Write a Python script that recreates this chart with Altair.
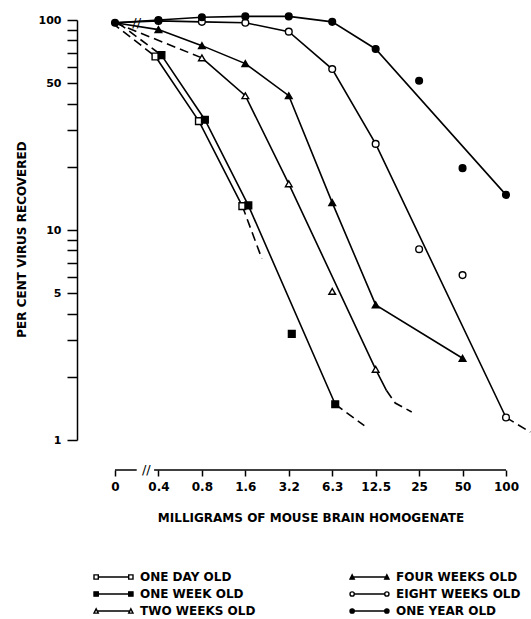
import json
import altair as alt
import pandas as pd

# ---------------- data ----------------
dose_labels = ["0", "0.4", "0.8", "1.6", "3.2", "6.3", "12.5", "25", "50", "100"]
series_names = ["ONE DAY OLD", "ONE WEEK OLD", "TWO WEEKS OLD",
                "FOUR WEEKS OLD", "EIGHT WEEKS OLD", "ONE YEAR OLD"]

# observed points (mg of brain homogenate -> per cent virus recovered)
one_day_dose = ["0.4", "0.8", "1.6"]
one_day_pct = [67, 33, 13]
one_week_dose = ["0.4", "0.8", "1.6", "3.2", "6.3"]
one_week_pct = [68, 33.5, 13.1, 3.2, 1.48]
two_weeks_dose = ["0.8", "1.6", "3.2", "6.3", "12.5"]
two_weeks_pct = [66, 43.6, 16.6, 5.1, 2.17]
four_weeks_dose = ["0.4", "0.8", "1.6", "3.2", "6.3", "12.5", "50"]
four_weeks_pct = [90, 75.5, 62, 43.6, 13.5, 4.4, 2.45]
eight_weeks_dose = ["0.4", "0.8", "1.6", "3.2", "6.3", "12.5", "25", "50", "100"]
eight_weeks_pct = [99, 98, 97, 88, 58.4, 25.7, 8.1, 6.1, 1.28]
one_year_dose = ["0", "0.4", "0.8", "1.6", "3.2", "6.3", "12.5", "25", "50", "100"]
one_year_pct = [97, 100, 103, 104, 104, 98, 72.8, 51.4, 19.7, 14.7]

# drawn curves: position on the dose scale (index of dose_labels,
# fractional for the extrapolated ends) and per cent recovered
one_day_solid_pos, one_day_solid_pct = [1, 2, 3], [67, 33, 13]
one_week_solid_pos, one_week_solid_pct = [1, 2, 3, 5], [68, 33.5, 13.1, 1.48]
two_weeks_solid_pos, two_weeks_solid_pct = [2, 3, 4, 6, 6.25], [66, 43.6, 16.6, 2.17, 1.72]
four_weeks_solid_pos = [0, 1, 2, 3, 4, 5, 6, 8]
four_weeks_solid_pct = [97, 90, 75.5, 62, 43.6, 13.5, 4.4, 2.45]
eight_weeks_solid_pos = [0, 1, 2, 3, 4, 5, 6, 9]
eight_weeks_solid_pct = [97, 99, 98, 97, 88, 58.4, 25.7, 1.28]
one_year_solid_pos = [0, 1, 2, 3, 4, 5, 6, 9]
one_year_solid_pct = [97, 100, 103, 104, 104, 98, 72.8, 14.7]

# dashed parts (start of curve and extrapolated tails)
one_day_dash_a_pos, one_day_dash_a_pct = [0, 1], [97, 67]
one_day_dash_b_pos, one_day_dash_b_pct = [3, 3.45], [13, 7.3]
one_week_dash_a_pos, one_week_dash_a_pct = [0, 1], [97, 68]
one_week_dash_b_pos, one_week_dash_b_pct = [5, 5.67], [1.48, 1.17]
two_weeks_dash_a_pos, two_weeks_dash_a_pct = [0, 2], [97, 66]
two_weeks_dash_b_pos, two_weeks_dash_b_pct = [6.25, 6.45, 6.83], [1.72, 1.5, 1.36]
eight_weeks_dash_b_pos, eight_weeks_dash_b_pct = [9, 9.56], [1.28, 1.09]

y_tick_values = [1, 2, 3, 4, 5, 6, 7, 8, 9, 10, 20, 30, 40, 50, 60, 70, 80, 90, 100]
y_label_values = [1, 5, 10, 50, 100]

# ---------------- tables ----------------
pt_rows = []
for name, doses, pcts in [
    ("ONE DAY OLD", one_day_dose, one_day_pct),
    ("ONE WEEK OLD", one_week_dose, one_week_pct),
    ("TWO WEEKS OLD", two_weeks_dose, two_weeks_pct),
    ("FOUR WEEKS OLD", four_weeks_dose, four_weeks_pct),
    ("EIGHT WEEKS OLD", eight_weeks_dose, eight_weeks_pct),
    ("ONE YEAR OLD", one_year_dose, one_year_pct),
]:
    for d, p in zip(doses, pcts):
        pt_rows.append({"series": name, "pos": dose_labels.index(d), "pct": p})
points = pd.DataFrame(pt_rows)

def seg_table(items):
    rows = []
    for k, (name, pos, pct) in enumerate(items):
        for i, (x, y) in enumerate(zip(pos, pct)):
            rows.append({"series": name, "seg": k, "ord": i, "pos": x, "pct": y})
    return pd.DataFrame(rows)

solid = seg_table([
    ("ONE DAY OLD", one_day_solid_pos, one_day_solid_pct),
    ("ONE WEEK OLD", one_week_solid_pos, one_week_solid_pct),
    ("TWO WEEKS OLD", two_weeks_solid_pos, two_weeks_solid_pct),
    ("FOUR WEEKS OLD", four_weeks_solid_pos, four_weeks_solid_pct),
    ("EIGHT WEEKS OLD", eight_weeks_solid_pos, eight_weeks_solid_pct),
    ("ONE YEAR OLD", one_year_solid_pos, one_year_solid_pct),
])
dashed = seg_table([
    ("ONE DAY OLD", one_day_dash_a_pos, one_day_dash_a_pct),
    ("ONE DAY OLD", one_day_dash_b_pos, one_day_dash_b_pct),
    ("ONE WEEK OLD", one_week_dash_a_pos, one_week_dash_a_pct),
    ("ONE WEEK OLD", one_week_dash_b_pos, one_week_dash_b_pct),
    ("TWO WEEKS OLD", two_weeks_dash_a_pos, two_weeks_dash_a_pct),
    ("TWO WEEKS OLD", two_weeks_dash_b_pos, two_weeks_dash_b_pct),
    ("EIGHT WEEKS OLD", eight_weeks_dash_b_pos, eight_weeks_dash_b_pct),
])

FONT = "DejaVu Sans"

X = alt.X("pos:Q",
          scale=alt.Scale(domain=[0, 9], nice=False, zero=False),
          axis=alt.Axis(values=list(range(10)),
                        labelExpr=json.dumps(dose_labels) + "[datum.value]",
                        domain=False, offset=30, tickSize=6, tickWidth=1.5,
                        tickColor="black", labelColor="black",
                        labelFont=FONT, labelFontSize=12, labelFontWeight="bold",
                        labelPadding=5, labelFlush=False, grid=False,
                        title="MILLIGRAMS OF MOUSE BRAIN HOMOGENATE",
                        titleFont=FONT, titleFontSize=12, titleFontWeight="bold",
                        titleColor="black", titlePadding=20))
Y = alt.Y("pct:Q",
          scale=alt.Scale(type="log", domain=[1, 100], nice=False),
          axis=alt.Axis(values=y_tick_values,
                        labelExpr="indexof(" + json.dumps(y_label_values) +
                                  ", datum.value) >= 0 ? format(datum.value, 'd') : ''",
                        offset=38, tickSize=10, tickWidth=1.5, tickColor="black",
                        domainColor="black", domainWidth=1.5,
                        labelColor="black", labelFont=FONT, labelFontSize=11,
                        labelFontWeight="bold", labelPadding=6, labelFlush=False,
                        grid=False,
                        title="PER CENT VIRUS RECOVERED",
                        titleFont=FONT, titleFontSize=12, titleFontWeight="bold",
                        titleColor="black", titleBaseline="middle",
                        titleX=-56, titleY=219))

shape_scale = alt.Scale(domain=series_names,
                        range=["square", "square", "triangle-up", "triangle-up",
                               "circle", "circle"])
fill_scale = alt.Scale(domain=series_names,
                       range=["white", "black", "white", "black", "white", "black"])

def layers_for(names, dx):
    lyr = []
    s = solid[solid.series.isin(names)]
    d = dashed[dashed.series.isin(names)]
    p = points[points.series.isin(names)]
    if len(s):
        lyr.append(alt.Chart(s).mark_line(color="black", strokeWidth=1.6, xOffset=dx)
                   .encode(x=X, y=Y, detail="seg:N", order="ord:Q"))
    if len(d):
        lyr.append(alt.Chart(d).mark_line(color="black", strokeWidth=1.6,
                                          strokeDash=[9, 5], xOffset=dx)
                   .encode(x=X, y=Y, detail="seg:N", order="ord:Q"))
    if len(p):
        lyr.append(alt.Chart(p).mark_point(stroke="black", strokeWidth=1.4,
                                           size=45, opacity=1, xOffset=dx)
                   .encode(x=X, y=Y,
                           shape=alt.Shape("series:N", scale=shape_scale, legend=None),
                           fill=alt.Fill("series:N", scale=fill_scale, legend=None)))
    return lyr

layers = []
layers += layers_for(["ONE DAY OLD"], -3)
layers += layers_for(["ONE WEEK OLD"], 3)
layers += layers_for(["TWO WEEKS OLD", "FOUR WEEKS OLD", "EIGHT WEEKS OLD", "ONE YEAR OLD"], 0)

# x axis line with a break
axis_line = pd.DataFrame({"pos": [0, 0.9], "pos2": [0.5, 9], "pct": [1, 1]})
layers.append(alt.Chart(axis_line).mark_rule(color="black", strokeWidth=1.5, yOffset=30)
              .encode(x=X, x2="pos2:Q", y=Y))
axis_break = pd.DataFrame({"pos": [0.72], "pct": [1], "t": ["//"]})
layers.append(alt.Chart(axis_break).mark_text(dy=30, fontSize=13, font=FONT, color="black")
              .encode(x=X, y=Y, text="t:N"))
line_break = pd.DataFrame({"pos": [0.5], "pct": [97], "t": ["//"]})
layers.append(alt.Chart(line_break).mark_text(fontSize=13, font=FONT, color="black")
              .encode(x=X, y=Y, text="t:N"))

# legend (marker-line-marker glyphs)
legend_order = series_names
a = 0.11
sq = (f"M-1,-{a}H{-1+2*a}V{a}H-1Z M{-1+2*a},0H{1-2*a} "
      f"M{1-2*a},-{a}H1V{a}H{1-2*a}Z")
ci = (f"M-1,0A{a},{a} 0 1 0 {-1+2*a},0A{a},{a} 0 1 0 -1,0Z M{-1+2*a},0H{1-2*a} "
      f"M{1-2*a},0A{a},{a} 0 1 0 1,0A{a},{a} 0 1 0 {1-2*a},0Z")
tr = (f"M-1,{a}L{-1+a},-{a}L{-1+2*a},{a}Z M{-1+1.5*a},0H{1-1.5*a} "
      f"M{1-2*a},{a}L{1-a},-{a}L1,{a}Z")
legend_shapes = {"ONE DAY OLD": sq, "ONE WEEK OLD": sq, "TWO WEEKS OLD": tr,
                 "FOUR WEEKS OLD": tr, "EIGHT WEEKS OLD": ci, "ONE YEAR OLD": ci}
legend_fills = {"ONE DAY OLD": "white", "ONE WEEK OLD": "black", "TWO WEEKS OLD": "white",
                "FOUR WEEKS OLD": "black", "EIGHT WEEKS OLD": "white", "ONE YEAR OLD": "black"}
leg = alt.Legend(orient="none", legendX=-22, legendY=550, columns=2, title=None,
                 labelFont=FONT, labelFontSize=12, labelFontWeight="bold",
                 labelColor="black", symbolSize=1521, symbolStrokeWidth=1.4,
                 symbolStrokeColor="black", labelOffset=6, columnPadding=93,
                 rowPadding=3, padding=0, clipHeight=14)
legend_df = pd.DataFrame({"label": series_names, "pct": [1] * 6, "pos": [0] * 6})
layers.append(
    alt.Chart(legend_df).transform_filter("datum.pct > 1000")
    .mark_point(stroke="black", strokeWidth=1.4, size=1521, opacity=1)
    .encode(shape=alt.Shape("label:N",
                            scale=alt.Scale(domain=legend_order,
                                            range=[legend_shapes[n] for n in legend_order]),
                            legend=leg),
            fill=alt.Fill("label:N",
                          scale=alt.Scale(domain=legend_order,
                                          range=[legend_fills[n] for n in legend_order]),
                          legend=leg),
            stroke=alt.Stroke("label:N",
                              scale=alt.Scale(domain=legend_order, range=["black"] * 6),
                              legend=leg))
)

chart = (alt.layer(*layers)
         .resolve_scale(shape="independent", fill="independent", stroke="independent")
         .properties(width=391, height=420, autosize="none",
                     padding={"left": 115, "top": 20, "right": 25, "bottom": 179},
                     background="white")
         .configure_view(stroke=None))

chart.save("out.html", embed_options={"renderer": "svg", "actions": False})
